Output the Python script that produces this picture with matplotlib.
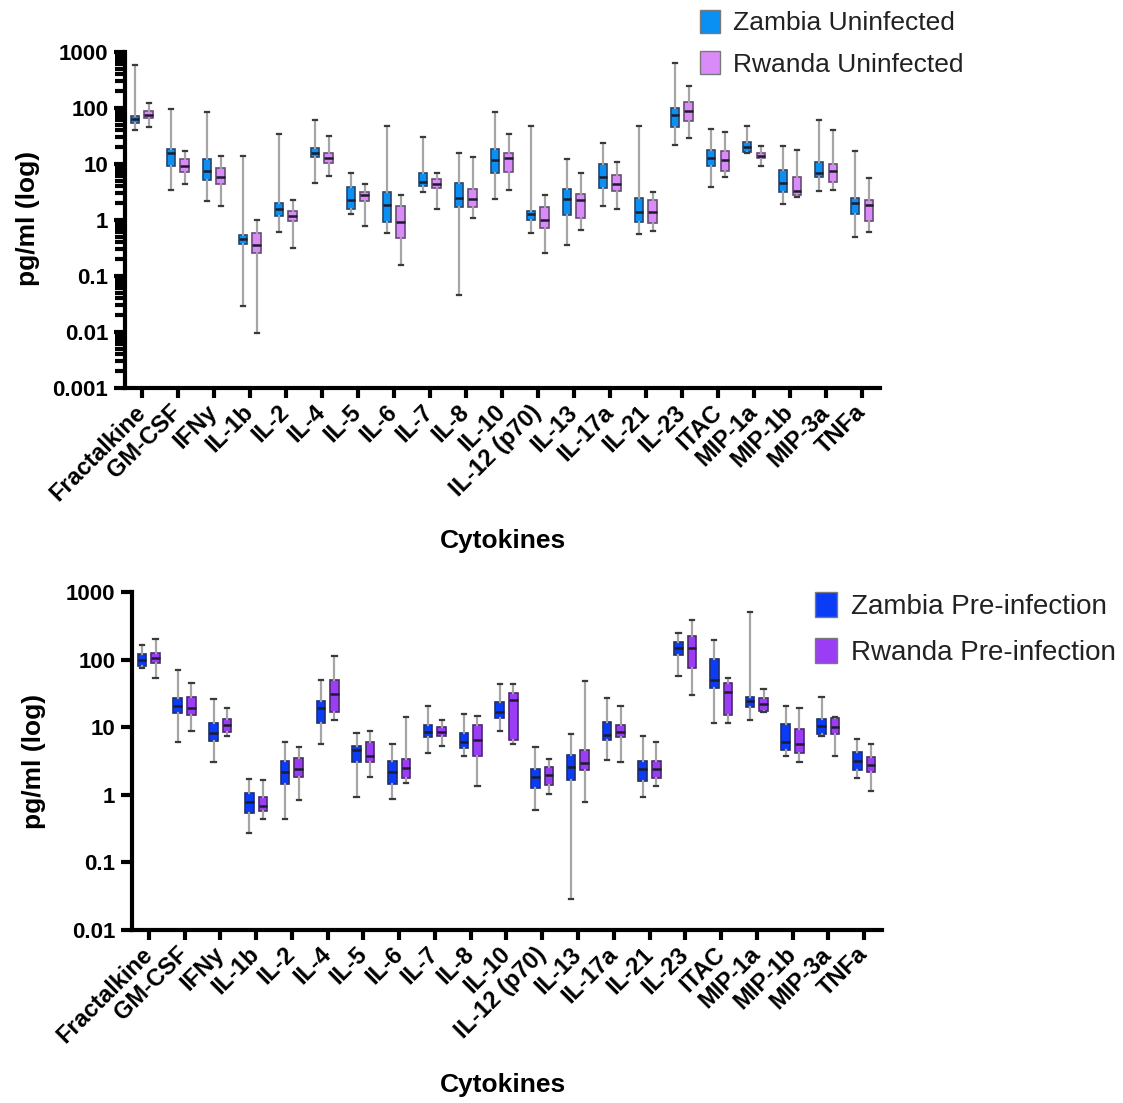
"""
Cytokine levels (pg/ml, log scale) - Zambia vs Rwanda,
uninfected (top) and pre-infection (bottom) box plots.
"""

import matplotlib
matplotlib.use("Agg")
import matplotlib.pyplot as plt
from matplotlib.patches import Patch
from matplotlib.ticker import FixedLocator, LogLocator, NullFormatter
import numpy as np

plt.rcParams["font.family"] = ["Liberation Sans", "DejaVu Sans"]

CYTOKINES = ["Fractalkine", "GM-CSF", "IFNy", "IL-1b", "IL-2", "IL-4", "IL-5",
             "IL-6", "IL-7", "IL-8", "IL-10", "IL-12 (p70)", "IL-13", "IL-17a",
             "IL-21", "IL-23", "ITAC", "MIP-1a", "MIP-1b", "MIP-3a", "TNFa"]

# (min, q1, median, q3, max) per cytokine, pg/ml
ZAMBIA_UNINF = [
    (41, 53, 63, 72, 590), (3.4, 9.2, 15.5, 18.3, 95), (2.2, 5.2, 7.6, 12.1, 86),
    (0.029, 0.38, 0.46, 0.54, 13.9), (0.62, 1.18, 1.6, 2.04, 34), (4.6, 13.2, 15.9, 19.5, 61),
    (1.28, 1.56, 2.3, 3.9, 7.0), (0.58, 0.93, 1.85, 3.2, 48), (3.1, 4.05, 4.8, 7.0, 30),
    (0.046, 1.7, 2.5, 4.5, 15.5), (2.4, 6.8, 11.8, 18.3, 85), (0.58, 1.0, 1.3, 1.45, 48),
    (0.36, 1.23, 2.4, 3.6, 12.1), (1.8, 3.8, 5.9, 10, 24), (0.56, 0.93, 1.4, 2.5, 48),
    (22, 46, 75, 98, 645), (3.9, 9.2, 12.6, 17.8, 43), (15.5, 16.6, 20, 24.5, 48),
    (1.93, 3.2, 4.5, 7.8, 21), (3.3, 5.8, 6.8, 11, 61), (0.50, 1.3, 2.0, 2.5, 17),
]
RWANDA_UNINF = [
    (45, 66, 76, 89, 121), (4.4, 7.3, 9.2, 12.3, 17), (1.8, 4.4, 5.8, 8.6, 13.9),
    (0.0095, 0.26, 0.36, 0.58, 1.0), (0.31, 0.97, 1.2, 1.47, 2.3), (6.1, 10.3, 12.6, 15.5, 31),
    (0.78, 2.2, 2.8, 3.2, 4.4), (0.16, 0.48, 0.93, 1.8, 2.8), (1.55, 3.7, 4.4, 5.3, 6.8),
    (1.1, 1.7, 2.4, 3.6, 13.5), (3.5, 7.3, 12.6, 15.5, 34), (0.26, 0.71, 1.0, 1.7, 2.8),
    (0.66, 1.07, 2.3, 2.9, 7.0), (1.55, 3.3, 4.4, 6.3, 10.9), (0.64, 0.9, 1.4, 2.3, 3.1),
    (29, 59, 90, 126, 247), (5.9, 7.5, 11.8, 17, 38), (9.2, 12.6, 14.1, 15.9, 21),
    (2.6, 2.8, 3.3, 5.8, 17.8), (3.4, 4.8, 7.6, 9.8, 41), (0.62, 0.97, 1.85, 2.3, 5.6),
]
ZAMBIA_PRE = [
    (75, 81, 100, 121, 165), (6.1, 16.1, 20.6, 27.4, 70), (3.1, 6.3, 8.1, 11.7, 25.9),
    (0.27, 0.54, 0.77, 1.06, 1.7), (0.44, 1.45, 2.2, 3.2, 6.1), (5.6, 11.4, 19.1, 24.7, 50),
    (0.92, 3.1, 4.6, 5.2, 8.3), (0.86, 1.45, 2.2, 3.2, 5.6), (4.2, 7.1, 8.4, 10.6, 20.9),
    (3.8, 4.9, 6.1, 8.2, 15.7), (8.9, 13.6, 17, 23.9, 43.5), (0.59, 1.26, 1.86, 2.4, 5.1),
    (0.029, 1.63, 2.6, 3.9, 8.0), (3.3, 6.5, 7.7, 11.8, 27.4), (0.92, 1.6, 2.4, 3.2, 7.5),
    (57, 117, 147, 184, 245), (11.7, 38, 50, 102, 195), (12.8, 20, 24.7, 28.3, 500),
    (3.8, 4.6, 6.1, 11.2, 20.6), (7.4, 8.0, 10.5, 13.1, 27.7), (1.8, 2.3, 3.2, 4.3, 6.7),
]
RWANDA_PRE = [
    (53, 89, 104, 126, 199), (8.9, 15.2, 19.1, 27.7, 44.7), (7.4, 8.6, 10.8, 13.1, 19.1),
    (0.44, 0.57, 0.69, 0.94, 1.67), (0.84, 1.86, 2.4, 3.5, 5.1), (12.8, 16.6, 30.8, 50, 113),
    (1.86, 3.1, 3.8, 6.1, 8.9), (1.52, 1.76, 2.5, 3.4, 14.3), (5.3, 7.3, 8.6, 10.2, 12.8),
    (1.36, 3.8, 6.5, 10.8, 14.7), (5.6, 6.5, 25.3, 32.5, 43.5), (1.03, 1.4, 1.97, 2.6, 3.4),
    (0.77, 2.3, 3.0, 4.6, 49), (3.1, 7.1, 8.6, 10.8, 20.6), (1.36, 1.76, 2.4, 3.2, 6.1),
    (30, 76, 147, 225, 385), (11.4, 15.2, 33.7, 44.6, 54), (17, 17.6, 22, 26.8, 36.7),
    (3.1, 4.1, 5.6, 9.3, 19.1), (3.8, 8.0, 10.2, 13.6, 14.3), (1.12, 2.2, 2.8, 3.6, 5.6),
]

TOP_LABELS = ["Zambia Uninfected", "Rwanda Uninfected"]
BOTTOM_LABELS = ["Zambia Pre-infection", "Rwanda Pre-infection"]


def to_stats(rows):
    return [dict(whislo=r[0], q1=r[1], med=r[2], q3=r[3], whishi=r[4], fliers=[])
            for r in rows]


def draw_panel(ax, series, ylim, minor):
    ax.set_yscale("log")
    x = np.arange(len(CYTOKINES))
    for rows, face, edge, off in series:
        ax.bxp(to_stats(rows), positions=x + off, widths=0.24, patch_artist=True,
               showfliers=False, manage_ticks=False, capwidths=0.12,
               boxprops=dict(facecolor=face, edgecolor=edge, linewidth=1.2),
               medianprops=dict(color="#1c1c2c", linewidth=1.8),
               whiskerprops=dict(color="#a5a5a5", linewidth=1.6),
               capprops=dict(color="#3a3a3a", linewidth=1.6))

    ax.set_xlim(-0.47, 20.5)
    ax.set_ylim(*ylim)
    ax.spines[["top", "right"]].set_visible(False)
    ax.spines[["left", "bottom"]].set_linewidth(3)

    ax.set_xticks(x)
    ax.set_xticklabels(CYTOKINES, rotation=45, ha="right", va="center",
                       rotation_mode="anchor", fontsize=17, fontweight="bold")
    ax.tick_params(axis="x", direction="out", length=7, width=3, pad=8)

    decades = 10.0 ** np.arange(np.log10(ylim[0]), np.log10(ylim[1]) + 1)
    ax.yaxis.set_major_locator(FixedLocator(decades))
    ax.set_yticklabels([f"{d:g}" for d in decades], fontsize=16, fontweight="bold")
    ax.tick_params(axis="y", which="major", direction="out", length=8, width=3, pad=4)
    if minor:
        ax.yaxis.set_minor_locator(LogLocator(base=10, subs=np.arange(2, 10)))
        ax.yaxis.set_minor_formatter(NullFormatter())
        ax.tick_params(axis="y", which="minor", direction="out", length=7, width=3)
    else:
        ax.yaxis.set_minor_locator(FixedLocator([]))


fig = plt.figure(figsize=(11.23, 11.03), dpi=100)
W, H = 1123, 1103

ax1 = fig.add_axes([125 / W, 1 - 388 / H, 755 / W, 336 / H])
draw_panel(ax1, [(ZAMBIA_UNINF, "#0a8ff2", "#26456e", -0.19),
                 (RWANDA_UNINF, "#d98bf7", "#6a4a7a", 0.19)],
           (1e-3, 1e3), minor=True)

ax2 = fig.add_axes([132 / W, 1 - 930 / H, 750 / W, 338 / H])
draw_panel(ax2, [(ZAMBIA_PRE, "#0a3cf7", "#1f2f6a", -0.19),
                 (RWANDA_PRE, "#9b3df5", "#4a2a6e", 0.19)],
           (1e-2, 1e3), minor=False)

# axis titles
for yc, xc in [(218, 28), (761, 34)]:
    fig.text(xc / W, 1 - yc / H, "pg/ml (log)", rotation=90, ha="center", va="center",
             fontsize=19, fontweight="bold")
for yc in [541, 1085]:
    fig.text(503 / W, 1 - yc / H, "Cytokines", ha="center", va="center",
             fontsize=19, fontweight="bold")

# legends
fig.legend(handles=[Patch(facecolor="#0a8ff2", edgecolor="#7a7a7a"),
                    Patch(facecolor="#d98bf7", edgecolor="#7a7a7a")],
           labels=TOP_LABELS, loc="upper left", bbox_to_anchor=(700 / W, 1 - 10 / H),
           frameon=False, fontsize=19, handlelength=0.75, handleheight=0.95,
           handletextpad=0.5, labelspacing=0.6, borderpad=0, borderaxespad=0,
           labelcolor="#222222")
fig.legend(handles=[Patch(facecolor="#0a3cf7", edgecolor="#7a7a7a"),
                    Patch(facecolor="#9b3df5", edgecolor="#7a7a7a")],
           labels=BOTTOM_LABELS, loc="upper left", bbox_to_anchor=(815 / W, 1 - 592 / H),
           frameon=False, fontsize=20, handlelength=0.8, handleheight=1.0,
           handletextpad=0.5, labelspacing=0.65, borderpad=0, borderaxespad=0,
           labelcolor="#222222")

fig.savefig("out.png", dpi=100)
